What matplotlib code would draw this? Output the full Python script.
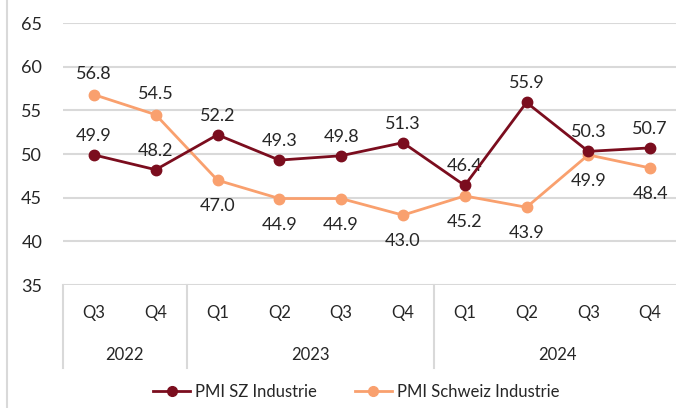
import numpy as np
import matplotlib.pyplot as plt
from matplotlib.lines import Line2D

plt.rcParams['font.family'] = ['Lato', 'DejaVu Sans']

quarters = ['Q3', 'Q4', 'Q1', 'Q2', 'Q3', 'Q4', 'Q1', 'Q2', 'Q3', 'Q4']
years = ['2022', '2023', '2024']
year_counts = [2, 4, 4]
pmi_sz = [49.9, 48.2, 52.2, 49.3, 49.8, 51.3, 46.4, 55.9, 50.3, 50.7]
pmi_ch = [56.8, 54.5, 47.0, 44.9, 44.9, 43.0, 45.2, 43.9, 49.9, 48.4]
# label above (+1) or below (-1) the point
ch_side = [1, 1, -1, -1, -1, -1, -1, -1, -1, -1]

dark = '#7B0D1E'
orange = '#F9A06E'
grid_c = '#D9D9D9'
txt_c = '#262626'

W, H = 676, 408
fig = plt.figure(figsize=(W / 100, H / 100), dpi=100)
ax = fig.add_axes([63 / W, (H - 285) / H, (681 - 63) / W, 262 / H])

x = np.arange(len(quarters))
ax.set_xlim(-0.5, len(quarters) - 0.5)
ax.set_ylim(35, 65)
ax.set_yticks(range(35, 66, 5))
ax.grid(axis='y', color=grid_c, lw=1.5)
ax.set_axisbelow(True)
for s in ax.spines.values():
    s.set_visible(False)
ax.tick_params(axis='y', length=0, labelsize=13, labelcolor=txt_c, pad=15)
ax.set_xticks([])

ax.plot(x, pmi_ch, color=orange, lw=2, marker='o', ms=7.5, zorder=3)
ax.plot(x, pmi_sz, color=dark, lw=2, marker='o', ms=7.5, zorder=4)

for xi, v in zip(x, pmi_sz):
    ax.annotate(f'{v:.1f}', (xi, v), xytext=(0, 19), textcoords='offset pixels',
                ha='center', va='center', fontsize=13, color=txt_c)
for xi, v, s in zip(x, pmi_ch, ch_side):
    off = 21 if s > 0 else -26
    ax.annotate(f'{v:.1f}', (xi, v), xytext=(0, off), textcoords='offset pixels',
                ha='center', va='center', fontsize=13, color=txt_c)

# category axis (two levels)
tr = ax.get_xaxis_transform()
ax_h = 262
def ay(py):
    return (285 - py) / ax_h

for xi, q in zip(x, quarters):
    ax.text(xi, ay(313), q, transform=tr, ha='center', va='center',
            fontsize=12, color=txt_c)
start = -0.5
for yr, n in zip(years, year_counts):
    ax.text(start + n / 2, ay(355), yr, transform=tr, ha='center', va='center',
            fontsize=12, color=txt_c)
    ax.plot([start, start], [0, ay(368)], transform=tr, color=grid_c, lw=1.5,
            clip_on=False)
    start += n

# chart border on left
fig.add_artist(Line2D([7 / W, 7 / W], [0, 1], color=grid_c, lw=1.5))

handles = [Line2D([], [], color=dark, lw=2, marker='o', ms=7),
           Line2D([], [], color=orange, lw=2, marker='o', ms=7)]
fig.legend(handles, ['PMI SZ Industrie', 'PMI Schweiz Industrie'], ncol=2,
           loc='center', bbox_to_anchor=(0.527, 1 - 392 / H), frameon=False,
           fontsize=12, handlelength=2.2, handletextpad=0.3, columnspacing=2.3,
           labelcolor=txt_c)

fig.savefig('out.png', dpi=100)
